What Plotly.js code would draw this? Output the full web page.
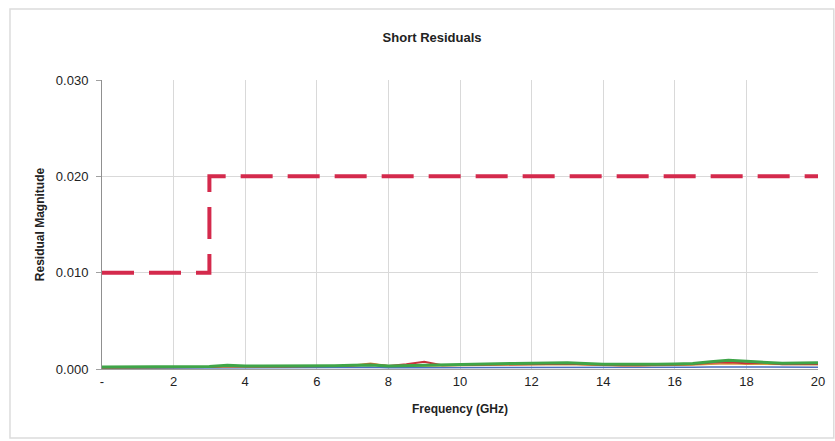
<!DOCTYPE html>
<html>
<head>
<meta charset="utf-8">
<script src="https://cdn.plot.ly/plotly-3.0.1.min.js"></script>
<style>html,body{margin:0;padding:0;background:#fff;}#chart{width:835px;height:441px;}</style>
</head>
<body>
<div id="chart"></div>
<script>
// Frequency grid (GHz)
const freq = [0,0.5,1,1.5,2,2.5,3,3.5,4,4.5,5,5.5,6,6.5,7,7.5,8,8.5,9,9.5,10,10.5,11,11.5,12,12.5,13,13.5,14,14.5,15,15.5,16,16.5,17,17.5,18,18.5,19,19.5,20];
// Residual traces
const greenRes = [0.00020,0.00020,0.00020,0.00021,0.00022,0.00024,0.00025,0.00040,0.00030,0.00030,0.00030,0.00032,0.00034,0.00035,0.00038,0.00042,0.00030,0.00035,0.00040,0.00045,0.00050,0.00052,0.00055,0.00058,0.00060,0.00065,0.00065,0.00058,0.00050,0.00050,0.00048,0.00050,0.00052,0.00058,0.00075,0.00090,0.00080,0.00072,0.00060,0.00062,0.00065];
const redRes   = [0.00015,0.00016,0.00016,0.00017,0.00018,0.00020,0.00021,0.00030,0.00024,0.00025,0.00025,0.00027,0.00028,0.00030,0.00035,0.00050,0.00030,0.00050,0.00075,0.00040,0.00042,0.00045,0.00048,0.00050,0.00052,0.00055,0.00055,0.00050,0.00042,0.00040,0.00040,0.00042,0.00045,0.00050,0.00065,0.00070,0.00060,0.00065,0.00050,0.00050,0.00052];
const orangeRes= [0.00012,0.00013,0.00014,0.00015,0.00016,0.00017,0.00018,0.00022,0.00020,0.00021,0.00022,0.00024,0.00026,0.00030,0.00040,0.00060,0.00035,0.00030,0.00032,0.00034,0.00036,0.00038,0.00040,0.00042,0.00044,0.00046,0.00046,0.00042,0.00036,0.00035,0.00035,0.00036,0.00038,0.00042,0.00050,0.00055,0.00050,0.00048,0.00042,0.00042,0.00044];
const blueRes  = [0.00008,0.00008,0.00009,0.00009,0.00010,0.00010,0.00011,0.00012,0.00012,0.00012,0.00013,0.00013,0.00014,0.00015,0.00016,0.00018,0.00012,0.00012,0.00013,0.00014,0.00015,0.00016,0.00017,0.00018,0.00018,0.00019,0.00019,0.00018,0.00016,0.00016,0.00016,0.00017,0.00017,0.00018,0.00020,0.00021,0.00020,0.00019,0.00018,0.00018,0.00019];
// Limit line
const limitFreq = [0,3,3,20];
const limitVal  = [0.010,0.010,0.020,0.020];
// Tick labels
const xTickVals = [0,2,4,6,8,10,12,14,16,18,20];
const xTickText = ['-','2','4','6','8','10','12','14','16','18','20'];
const yTickVals = [0,0.01,0.02,0.03];
const yTickText = ['0.000','0.010','0.020','0.030'];

const traces = [
  {x:freq,y:blueRes,mode:'lines',line:{color:'#4a6fc0',width:1.5},hoverinfo:'skip'},
  {x:freq,y:orangeRes,mode:'lines',line:{color:'#d89a3a',width:1.5},hoverinfo:'skip'},
  {x:freq,y:redRes,mode:'lines',line:{color:'#c8323a',width:2},hoverinfo:'skip'},
  {x:freq,y:greenRes,mode:'lines',line:{color:'#3fa548',width:3},hoverinfo:'skip'},
  {x:limitFreq,y:limitVal,mode:'lines',line:{color:'#d42a4c',width:4,dash:'32px,15px'},hoverinfo:'skip'}
];

const layout = {
  width:835,height:441,
  margin:{l:102,r:17,t:80,b:72},
  paper_bgcolor:'#ffffff',plot_bgcolor:'#ffffff',
  showlegend:false,
  font:{family:'Liberation Sans, Arial, sans-serif',color:'#222',size:13},
  title:{text:'<b>Short Residuals</b>',font:{size:13,color:'#222'},x:0.461,xref:'paper',xanchor:'center',y:0.915,yref:'container',yanchor:'middle'},
  xaxis:{range:[0,20],tickvals:xTickVals,ticktext:xTickText,showgrid:true,gridcolor:'#d9d9d9',gridwidth:1,
    zeroline:false,showline:true,linecolor:'#a0a0a0',linewidth:1,ticks:'',
    tickfont:{size:13,color:'#222'},
    title:{text:'<b>Frequency (GHz)</b>',font:{size:12,color:'#222'},standoff:17}},
  yaxis:{range:[0,0.03],tickvals:yTickVals,ticktext:yTickText,showgrid:true,gridcolor:'#d9d9d9',gridwidth:1,
    zeroline:false,showline:true,linecolor:'#909090',linewidth:1,ticks:'outside',ticklen:5,tickcolor:'#a0a0a0',
    ticklabelstandoff:5,
    tickfont:{size:13,color:'#222'},
    title:{text:'<b>Residual Magnitude</b>',font:{size:12,color:'#222'},standoff:8}},
  shapes:[
    {type:'rect',xref:'paper',yref:'paper',x0:-0.1285,x1:1.022,y0:-0.239,y1:1.2457,line:{color:'#dcdcdc',width:1.5},fillcolor:'rgba(0,0,0,0)',layer:'below'}
  ]
};
Plotly.newPlot('chart',traces,layout,{displayModeBar:false,staticPlot:true});
</script>
</body>
</html>
